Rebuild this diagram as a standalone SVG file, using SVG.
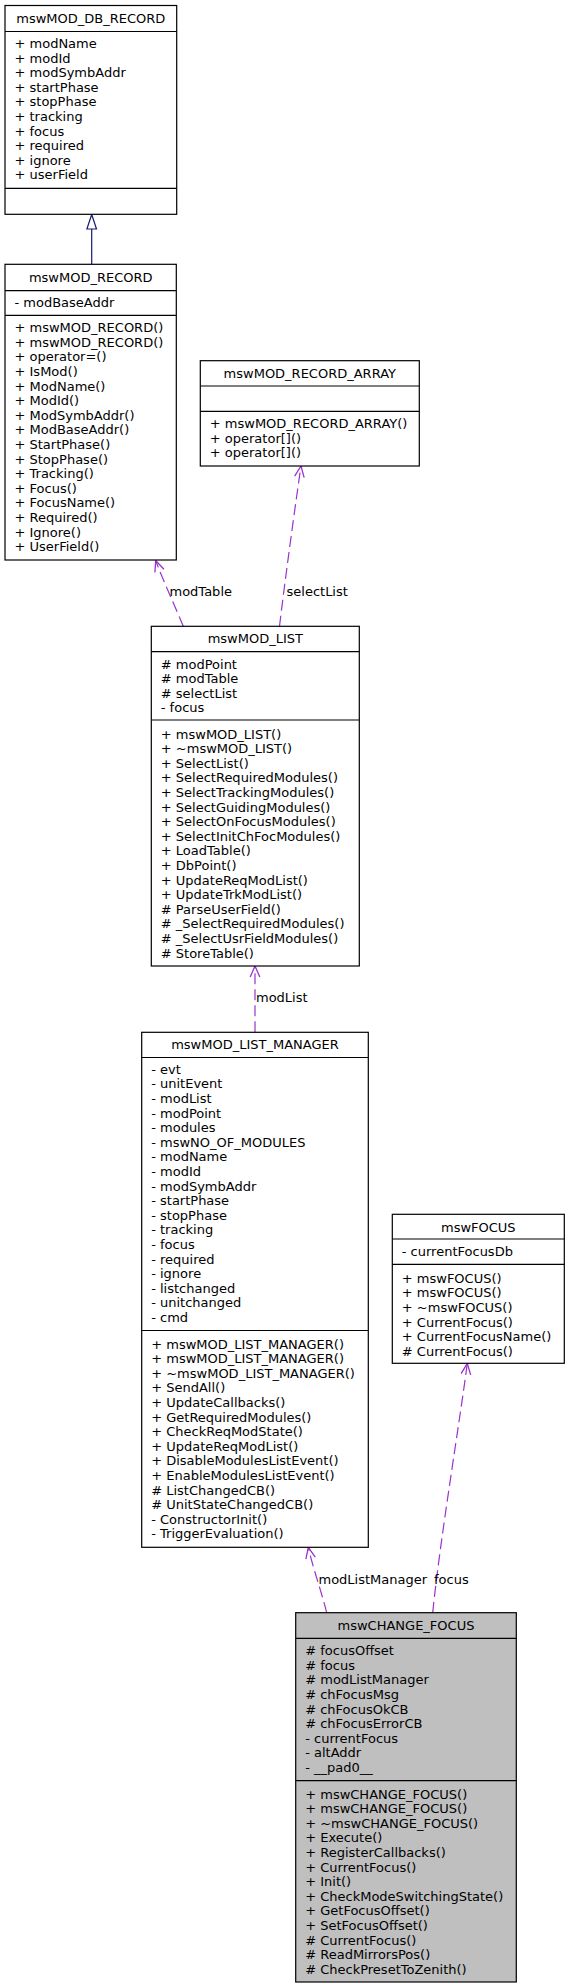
<svg xmlns="http://www.w3.org/2000/svg" width="568" height="1987" viewBox="0 0 568 1987">
<style>
text{font-family:"DejaVu Sans","Liberation Sans",sans-serif;font-size:13px;fill:#000}
.t{text-anchor:middle}
.box{fill:#fff;stroke:#000;stroke-width:1.2}
.hl{fill:#bfbfbf;stroke:#000;stroke-width:1.2}
.sep{stroke:#000;stroke-width:1.2}
.use{fill:none;stroke:#9a32cd;stroke-width:1.2;stroke-dasharray:11,5;marker-end:url(#vee)}
.inh{fill:none;stroke:#191970;stroke-width:1.2}
</style>
<defs>
<marker id="vee" viewBox="-1 -6 13 12" refX="11" refY="0" markerWidth="13" markerHeight="12" markerUnits="userSpaceOnUse" orient="auto">
<path d="M0,-4.8 L11,0 L0,4.8" fill="none" stroke="#9a32cd" stroke-width="1.3"/>
</marker>
</defs>
<g id="edges">
<path class="inh" d="M91.7,264.3 L91.7,229"/>
<polygon points="91.7,214.5 86.9,229 96.5,229" fill="#fff" stroke="#191970" stroke-width="1.2"/>
<path class="use" d="M183.3,626.3 C175,606 162,578 155.7,560.5"/>
<text x="169.5" y="596">modTable</text>
<path class="use" d="M279.5,626.3 C285,580 296,500 301,466"/>
<text x="286.5" y="596">selectList</text>
<path class="use" d="M255,1032.3 L255,966"/>
<text x="256" y="1002">modList</text>
<path class="use" d="M326.7,1612.7 C321,1590 312,1565 308.3,1547.3"/>
<text x="318.5" y="1583.5">modListManager</text>
<path class="use" d="M432.7,1612.7 C440,1540 460,1420 467.3,1363.3"/>
<text x="434" y="1583.5">focus</text>
</g>
<g id="mswMOD_DB_RECORD">
<rect class="box" x="5" y="5.5" width="171.7" height="208.8"/>
<line class="sep" x1="5" y1="31.5" x2="176.7" y2="31.5"/>
<line class="sep" x1="5" y1="188.3" x2="176.7" y2="188.3"/>
<text class="t" x="90.8" y="23">mswMOD_DB_RECORD</text>
<text x="14.5" y="48">+ modName</text>
<text x="14.5" y="62.6">+ modId</text>
<text x="14.5" y="77.2">+ modSymbAddr</text>
<text x="14.5" y="91.8">+ startPhase</text>
<text x="14.5" y="106.4">+ stopPhase</text>
<text x="14.5" y="121">+ tracking</text>
<text x="14.5" y="135.6">+ focus</text>
<text x="14.5" y="150.2">+ required</text>
<text x="14.5" y="164.8">+ ignore</text>
<text x="14.5" y="179.4">+ userField</text>
</g>
<g id="mswMOD_RECORD">
<rect class="box" x="5" y="264.3" width="171.3" height="295.7"/>
<line class="sep" x1="5" y1="290.7" x2="176.3" y2="290.7"/>
<line class="sep" x1="5" y1="315.3" x2="176.3" y2="315.3"/>
<text class="t" x="90.7" y="282.2">mswMOD_RECORD</text>
<text x="14.5" y="307.4">- modBaseAddr</text>
<text x="14.5" y="332.2">+ mswMOD_RECORD()</text>
<text x="14.5" y="346.8">+ mswMOD_RECORD()</text>
<text x="14.5" y="361.4">+ operator=()</text>
<text x="14.5" y="376">+ IsMod()</text>
<text x="14.5" y="390.6">+ ModName()</text>
<text x="14.5" y="405.2">+ ModId()</text>
<text x="14.5" y="419.8">+ ModSymbAddr()</text>
<text x="14.5" y="434.4">+ ModBaseAddr()</text>
<text x="14.5" y="449">+ StartPhase()</text>
<text x="14.5" y="463.6">+ StopPhase()</text>
<text x="14.5" y="478.2">+ Tracking()</text>
<text x="14.5" y="492.8">+ Focus()</text>
<text x="14.5" y="507.4">+ FocusName()</text>
<text x="14.5" y="522">+ Required()</text>
<text x="14.5" y="536.6">+ Ignore()</text>
<text x="14.5" y="551.2">+ UserField()</text>
</g>
<g id="mswMOD_RECORD_ARRAY">
<rect class="box" x="200.3" y="360.7" width="219" height="105.3"/>
<line class="sep" x1="200.3" y1="386" x2="419.3" y2="386"/>
<line class="sep" x1="200.3" y1="411.3" x2="419.3" y2="411.3"/>
<text class="t" x="309.8" y="378.2">mswMOD_RECORD_ARRAY</text>
<text x="209.8" y="428.2">+ mswMOD_RECORD_ARRAY()</text>
<text x="209.8" y="442.8">+ operator[]()</text>
<text x="209.8" y="457.4">+ operator[]()</text>
</g>
<g id="mswMOD_LIST">
<rect class="box" x="151.3" y="626.3" width="208" height="339.7"/>
<line class="sep" x1="151.3" y1="651.7" x2="359.3" y2="651.7"/>
<line class="sep" x1="151.3" y1="720" x2="359.3" y2="720"/>
<text class="t" x="255.3" y="643">mswMOD_LIST</text>
<text x="160.8" y="668.5"># modPoint</text>
<text x="160.8" y="683.1"># modTable</text>
<text x="160.8" y="697.7"># selectList</text>
<text x="160.8" y="712.3">- focus</text>
<text x="160.8" y="738.5">+ mswMOD_LIST()</text>
<text x="160.8" y="753.1">+ ~mswMOD_LIST()</text>
<text x="160.8" y="767.7">+ SelectList()</text>
<text x="160.8" y="782.3">+ SelectRequiredModules()</text>
<text x="160.8" y="796.9">+ SelectTrackingModules()</text>
<text x="160.8" y="811.5">+ SelectGuidingModules()</text>
<text x="160.8" y="826.1">+ SelectOnFocusModules()</text>
<text x="160.8" y="840.7">+ SelectInitChFocModules()</text>
<text x="160.8" y="855.3">+ LoadTable()</text>
<text x="160.8" y="869.9">+ DbPoint()</text>
<text x="160.8" y="884.5">+ UpdateReqModList()</text>
<text x="160.8" y="899.1">+ UpdateTrkModList()</text>
<text x="160.8" y="913.7"># ParseUserField()</text>
<text x="160.8" y="928.3"># _SelectRequiredModules()</text>
<text x="160.8" y="942.9"># _SelectUsrFieldModules()</text>
<text x="160.8" y="957.5"># StoreTable()</text>
</g>
<g id="mswMOD_LIST_MANAGER">
<rect class="box" x="141.7" y="1032.3" width="226.6" height="515"/>
<line class="sep" x1="141.7" y1="1057.5" x2="368.3" y2="1057.5"/>
<line class="sep" x1="141.7" y1="1330.5" x2="368.3" y2="1330.5"/>
<text class="t" x="255" y="1049">mswMOD_LIST_MANAGER</text>
<text x="151.2" y="1073.8">- evt</text>
<text x="151.2" y="1088.4">- unitEvent</text>
<text x="151.2" y="1103">- modList</text>
<text x="151.2" y="1117.6">- modPoint</text>
<text x="151.2" y="1132.2">- modules</text>
<text x="151.2" y="1146.8">- mswNO_OF_MODULES</text>
<text x="151.2" y="1161.4">- modName</text>
<text x="151.2" y="1176">- modId</text>
<text x="151.2" y="1190.6">- modSymbAddr</text>
<text x="151.2" y="1205.2">- startPhase</text>
<text x="151.2" y="1219.8">- stopPhase</text>
<text x="151.2" y="1234.4">- tracking</text>
<text x="151.2" y="1249">- focus</text>
<text x="151.2" y="1263.6">- required</text>
<text x="151.2" y="1278.2">- ignore</text>
<text x="151.2" y="1292.8">- listchanged</text>
<text x="151.2" y="1307.4">- unitchanged</text>
<text x="151.2" y="1322">- cmd</text>
<text x="151.2" y="1348.5">+ mswMOD_LIST_MANAGER()</text>
<text x="151.2" y="1363.1">+ mswMOD_LIST_MANAGER()</text>
<text x="151.2" y="1377.7">+ ~mswMOD_LIST_MANAGER()</text>
<text x="151.2" y="1392.3">+ SendAll()</text>
<text x="151.2" y="1406.9">+ UpdateCallbacks()</text>
<text x="151.2" y="1421.5">+ GetRequiredModules()</text>
<text x="151.2" y="1436.1">+ CheckReqModState()</text>
<text x="151.2" y="1450.7">+ UpdateReqModList()</text>
<text x="151.2" y="1465.3">+ DisableModulesListEvent()</text>
<text x="151.2" y="1479.9">+ EnableModulesListEvent()</text>
<text x="151.2" y="1494.5"># ListChangedCB()</text>
<text x="151.2" y="1509.1"># UnitStateChangedCB()</text>
<text x="151.2" y="1523.7">- ConstructorInit()</text>
<text x="151.2" y="1538.3">- TriggerEvaluation()</text>
</g>
<g id="mswFOCUS">
<rect class="box" x="392.3" y="1214.3" width="172" height="149"/>
<line class="sep" x1="392.3" y1="1239" x2="564.3" y2="1239"/>
<line class="sep" x1="392.3" y1="1264.3" x2="564.3" y2="1264.3"/>
<text class="t" x="478.3" y="1232">mswFOCUS</text>
<text x="401.8" y="1256.2">- currentFocusDb</text>
<text x="401.8" y="1282.8">+ mswFOCUS()</text>
<text x="401.8" y="1297.4">+ mswFOCUS()</text>
<text x="401.8" y="1312">+ ~mswFOCUS()</text>
<text x="401.8" y="1326.6">+ CurrentFocus()</text>
<text x="401.8" y="1341.2">+ CurrentFocusName()</text>
<text x="401.8" y="1355.8"># CurrentFocus()</text>
</g>
<g id="mswCHANGE_FOCUS">
<rect class="hl" x="295.7" y="1612.7" width="220.6" height="369.3"/>
<line class="sep" x1="295.7" y1="1638.3" x2="516.3" y2="1638.3"/>
<line class="sep" x1="295.7" y1="1780.7" x2="516.3" y2="1780.7"/>
<text class="t" x="406" y="1630.2">mswCHANGE_FOCUS</text>
<text x="305.2" y="1655.2"># focusOffset</text>
<text x="305.2" y="1669.8"># focus</text>
<text x="305.2" y="1684.4"># modListManager</text>
<text x="305.2" y="1699"># chFocusMsg</text>
<text x="305.2" y="1713.6"># chFocusOkCB</text>
<text x="305.2" y="1728.2"># chFocusErrorCB</text>
<text x="305.2" y="1742.8">- currentFocus</text>
<text x="305.2" y="1757.4">- altAddr</text>
<text x="305.2" y="1772">- __pad0__</text>
<text x="305.2" y="1798.5">+ mswCHANGE_FOCUS()</text>
<text x="305.2" y="1813.1">+ mswCHANGE_FOCUS()</text>
<text x="305.2" y="1827.7">+ ~mswCHANGE_FOCUS()</text>
<text x="305.2" y="1842.3">+ Execute()</text>
<text x="305.2" y="1856.9">+ RegisterCallbacks()</text>
<text x="305.2" y="1871.5">+ CurrentFocus()</text>
<text x="305.2" y="1886.1">+ Init()</text>
<text x="305.2" y="1900.7">+ CheckModeSwitchingState()</text>
<text x="305.2" y="1915.3">+ GetFocusOffset()</text>
<text x="305.2" y="1929.9">+ SetFocusOffset()</text>
<text x="305.2" y="1944.5"># CurrentFocus()</text>
<text x="305.2" y="1959.1"># ReadMirrorsPos()</text>
<text x="305.2" y="1973.7"># CheckPresetToZenith()</text>
</g>
</svg>
